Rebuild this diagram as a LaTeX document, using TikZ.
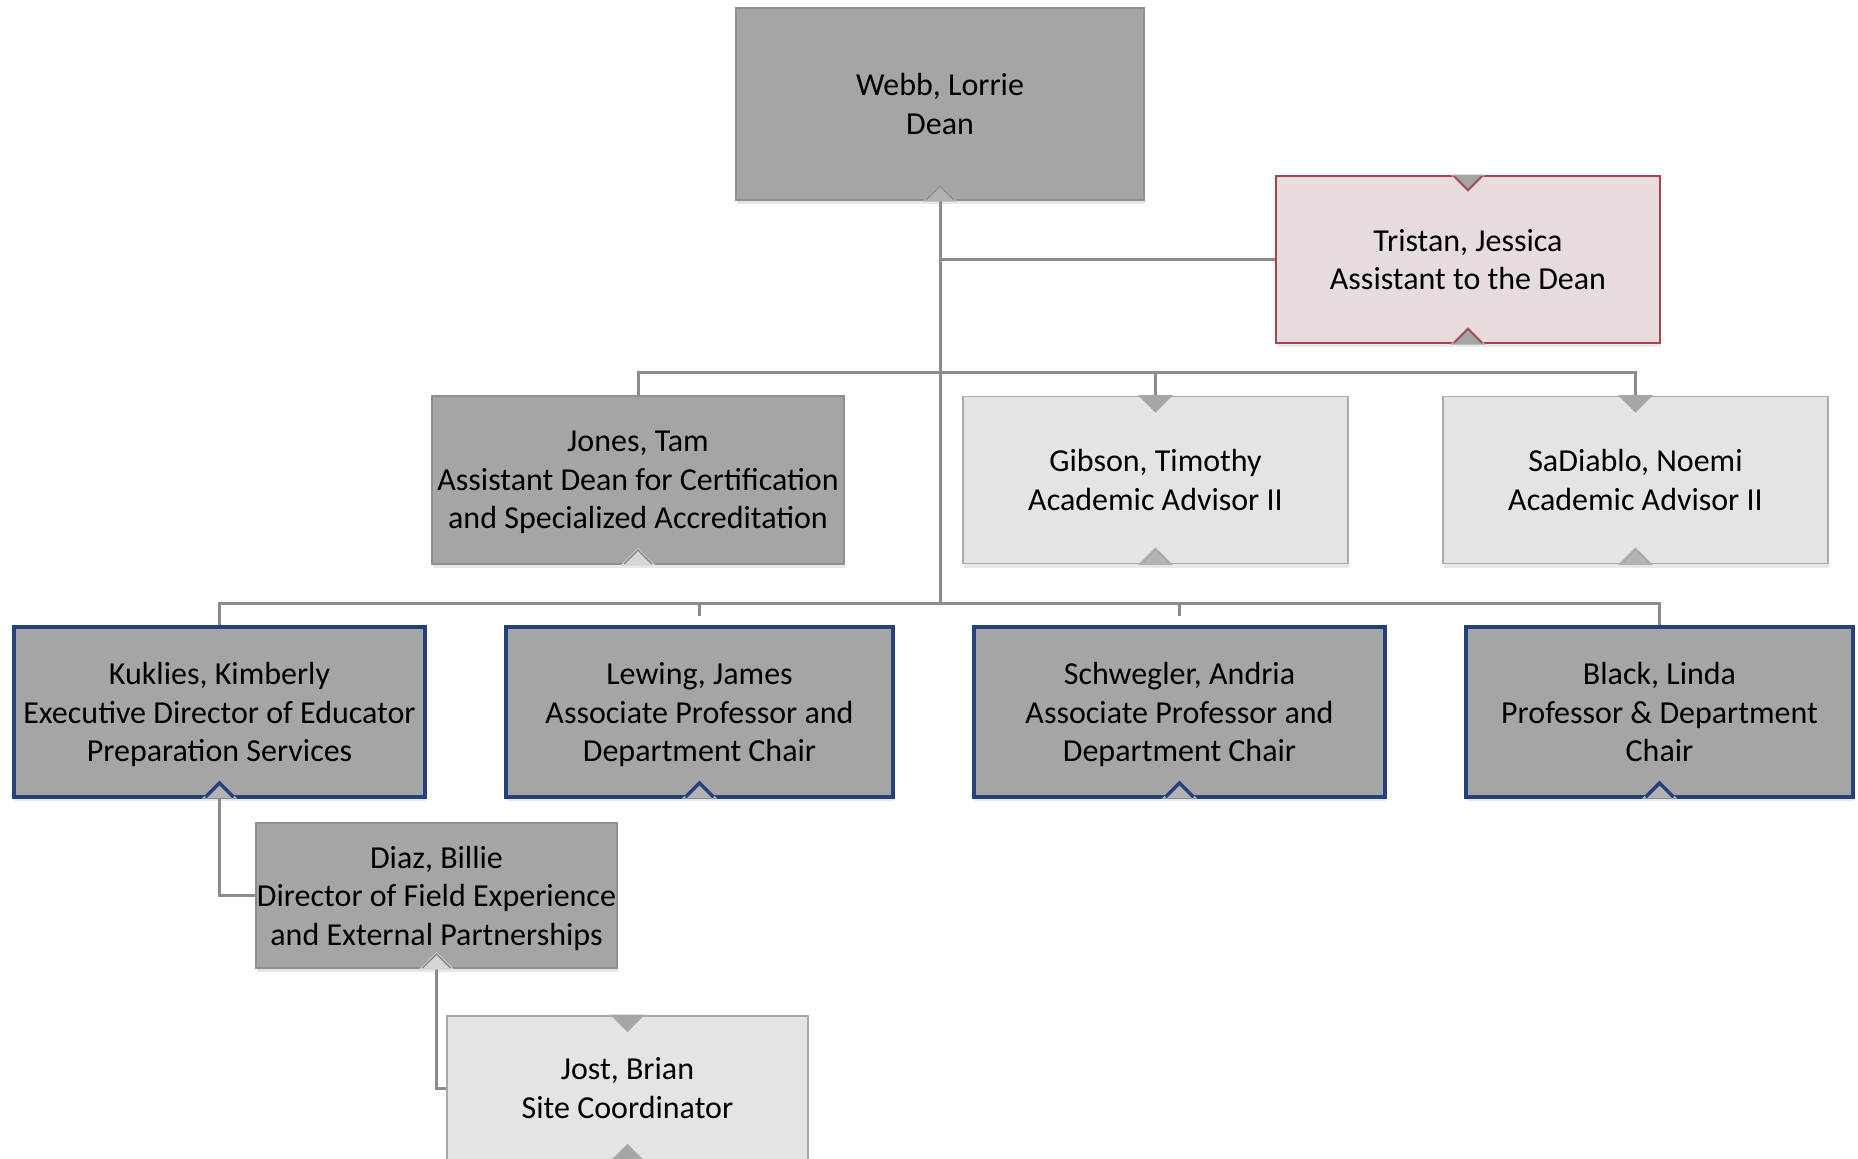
\documentclass[tikz,border=0pt]{standalone}
\usepackage{fontspec}
\setmainfont{Carlito}
\usepackage{tikz}
\usetikzlibrary{shapes}
\usetikzlibrary{positioning}
\usetikzlibrary{calc}
\usetikzlibrary{shadows}
\usetikzlibrary{backgrounds}

\definecolor{darkfill}{HTML}{A5A5A5}
\definecolor{darkborder}{HTML}{8E8E8E}
\definecolor{lightfill}{HTML}{E4E4E4}
\definecolor{lightborder}{HTML}{A8A8A8}
\definecolor{pinkfill}{HTML}{E6DCDB}
\definecolor{pinkborder}{HTML}{A8434F}
\definecolor{chairblue}{HTML}{25407A}
\definecolor{linkgray}{HTML}{8C8C8C}
\definecolor{notchlight}{HTML}{D6D6D6}
\definecolor{notchmid}{HTML}{B2B2B2}

\tikzset{
  person/.style={rectangle, align=center, inner sep=0pt, outer sep=0pt,
    font=\fontsize{32}{38.5}\selectfont, text depth=0pt,
    drop shadow={shadow xshift=1pt, shadow yshift=-4pt, opacity=0.18}},
  darkbox/.style={person, fill=darkfill, draw=darkborder, line width=1.5pt},
  lightbox/.style={person, fill=lightfill, draw=lightborder, line width=1.5pt},
  pinkbox/.style={person, fill=pinkfill, draw=pinkborder, line width=1.5pt},
  chairbox/.style={person, fill=darkfill, draw=chairblue, line width=3.5pt},
  link/.style={draw=linkgray, line width=3pt},
}

% notches: #1 node, #2 fill, #3 border options
\newcommand{\botnotch}[3]{%
  \fill[#2, draw=#2, line width=3pt] ([xshift=-14pt]#1.south) -- ([yshift=14pt]#1.south) -- ([xshift=14pt]#1.south) -- cycle;
  \draw[#3] ([xshift=-14pt]#1.south) -- ([yshift=14pt]#1.south) -- ([xshift=14pt]#1.south);}
\newcommand{\topnotch}[3]{%
  \fill[#2, draw=#2, line width=3pt] ([xshift=-14pt]#1.north) -- ([yshift=-14pt]#1.north) -- ([xshift=14pt]#1.north) -- cycle;
  \draw[#3] ([xshift=-14pt]#1.north) -- ([yshift=-14pt]#1.north) -- ([xshift=14pt]#1.north);}

\begin{document}
\begin{tikzpicture}[x=1pt, y=-1pt]
  \useasboundingbox (0, 0) rectangle (1858, 1159);

  \node[darkbox, minimum width=408pt, minimum height=192pt] (webb) at (940, 104) {Webb, Lorrie\\Dean};
  \node[pinkbox, minimum width=384pt, minimum height=167pt] (tristan) at (1468, 259.5) {Tristan, Jessica\\Assistant to the Dean};

  \node[darkbox, minimum width=412pt, minimum height=168pt] (jones) at (638, 480) {Jones, Tam\\Assistant Dean for Certification\\and Specialized Accreditation};
  \node[lightbox, minimum width=385pt, minimum height=167pt] (gibson) at (1155.5, 480) {Gibson, Timothy\\Academic Advisor II};
  \node[lightbox, minimum width=385pt, minimum height=167pt] (sadiablo) at (1635.5, 480) {SaDiablo, Noemi\\Academic Advisor II};

  \node[chairbox, minimum width=411pt, minimum height=170pt] (kuklies) at (219.5, 712) {Kuklies, Kimberly\\Executive Director of Educator\\Preparation Services};
  \node[chairbox, minimum width=387pt, minimum height=170pt] (lewing) at (699.5, 712) {Lewing, James\\Associate Professor and\\Department Chair};
  \node[chairbox, minimum width=411pt, minimum height=170pt] (schwegler) at (1179.5, 712) {Schwegler, Andria\\Associate Professor and\\Department Chair};
  \node[chairbox, minimum width=387pt, minimum height=170pt] (black) at (1659.5, 712) {Black, Linda\\Professor \& Department\\Chair};

  \node[darkbox, minimum width=361pt, minimum height=145pt] (diaz) at (436.5, 895.5) {Diaz, Billie\\Director of Field Experience\\and External Partnerships};
  \node[lightbox, minimum width=361pt, minimum height=144pt] (jost) at (627.5, 1088) {Jost, Brian\\Site Coordinator};

  % connectors
  \begin{scope}[on background layer]
    \coordinate (bar2) at (940, 372);
    \coordinate (bar3) at (940, 603);
    \draw[link] (webb.south) -- (bar3);
    \draw[link] (webb.south |- tristan.west) -- (tristan.west);
    \draw[link] (jones.north) -- (jones.north |- bar2) -- (sadiablo.north |- bar2) -- (sadiablo.north);
    \draw[link] (gibson.north |- bar2) -- (gibson.north);
    \draw[link] (kuklies.north) -- (kuklies.north |- bar3) -- (black.north |- bar3) -- (black.north);
    \draw[link] (lewing.north |- bar3) -- ++(0, 13);
    \draw[link] (schwegler.north |- bar3) -- ++(0, 13);
    \draw[link] (kuklies.south) |- (diaz.west);
    \draw[link] (diaz.south) |- (jost.west);
  \end{scope}

  \botnotch{webb}{notchmid}{draw=darkborder, line width=1.5pt}
  \topnotch{tristan}{darkfill}{draw=pinkborder, line width=1.5pt}
  \botnotch{tristan}{darkfill}{draw=pinkborder, line width=1.5pt}
  \botnotch{jones}{notchlight}{draw=darkborder, line width=1.5pt}
  \topnotch{gibson}{darkfill}{draw=lightborder, line width=1.5pt}
  \botnotch{gibson}{notchmid}{draw=lightborder, line width=1.5pt}
  \topnotch{sadiablo}{darkfill}{draw=lightborder, line width=1.5pt}
  \botnotch{sadiablo}{notchmid}{draw=lightborder, line width=1.5pt}
  \botnotch{kuklies}{notchmid}{draw=chairblue, line width=3.5pt}
  \botnotch{lewing}{notchmid}{draw=chairblue, line width=3.5pt}
  \botnotch{schwegler}{notchmid}{draw=chairblue, line width=3.5pt}
  \botnotch{black}{notchmid}{draw=chairblue, line width=3.5pt}
  \botnotch{diaz}{notchlight}{draw=darkborder, line width=1.5pt}
  \topnotch{jost}{darkfill}{draw=lightborder, line width=1.5pt}
  \botnotch{jost}{darkfill}{draw=lightborder, line width=1.5pt}
\end{tikzpicture}
\end{document}
